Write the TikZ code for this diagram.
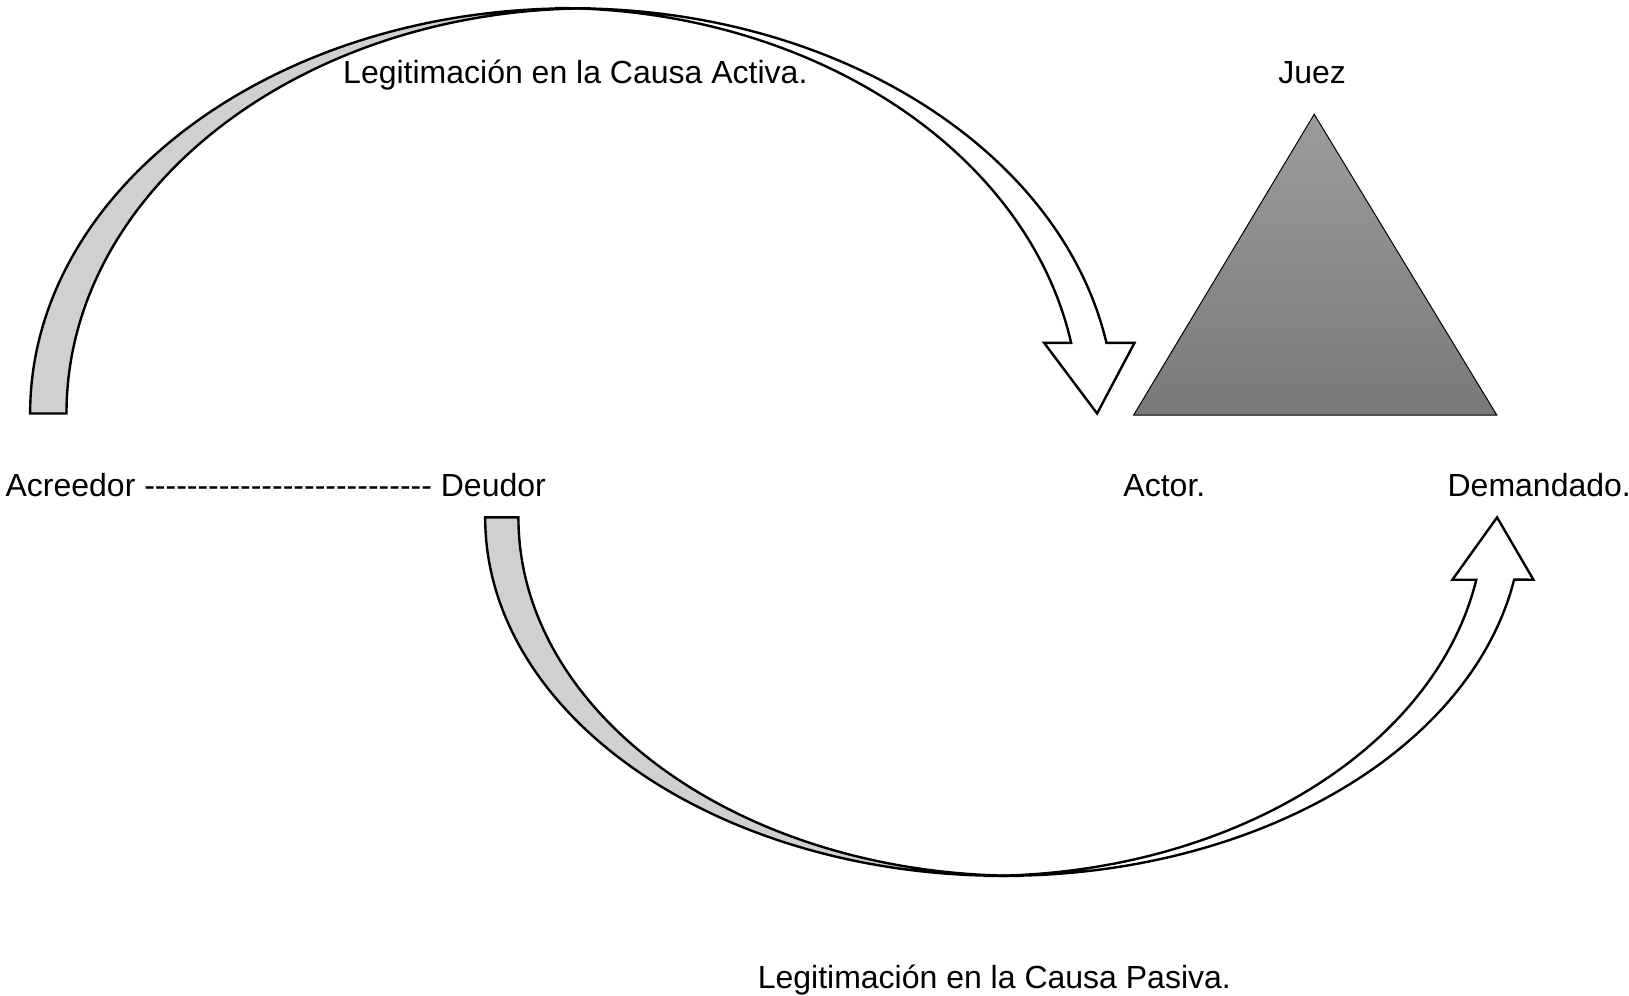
\documentclass[tikz,border=0pt]{standalone}
\usepackage{fontspec}
\setmainfont{Liberation Sans}[Ligatures=TeXOff]
\definecolor{bandgray}{RGB}{208,208,208}
\definecolor{tritop}{RGB}{156,156,156}
\definecolor{tribot}{RGB}{121,121,121}
\tikzset{
  band/.style={draw=black, line width=1.2pt, line join=miter},
  lbl/.style={inner sep=0pt, anchor=base west, font=\fontsize{16}{19}\selectfont},
  tri/.style={draw=black, line width=0.5pt, top color=tritop, bottom color=tribot}
}
\begin{document}
\begin{tikzpicture}[x=0.51945pt, y=-0.51945pt]
\useasboundingbox (0,0) rectangle (1568,958.65);
% top curved arrow: back (gray) part
\draw[band, fill=bandgray] (29,398) arc[start angle=180, end angle=270, x radius=522, y radius=390]
  -- (568.5,8) arc[start angle=270, end angle=180, x radius=504.5, y radius=390] -- cycle;
% top curved arrow: front (white) part
\draw[band, fill=white] (551,8) arc[start angle=270, end angle=349.96, x radius=522, y radius=390]
  -- (1092,330) -- (1056,398) -- (1005,330) -- (1031,330)
  arc[start angle=350, end angle=270, x radius=504.5, y radius=390] -- cycle;
% bottom curved arrow: back (gray) part
\draw[band, fill=bandgray] (467,498) arc[start angle=180, end angle=90, x radius=499, y radius=345]
  -- (982,843) arc[start angle=90, end angle=180, x radius=483, y radius=345] -- cycle;
% bottom curved arrow: front (white) part
\draw[band, fill=white] (966,843) arc[start angle=90, end angle=10, x radius=499, y radius=345]
  -- (1476,558) -- (1441,498) -- (1398,558) -- (1421,558)
  arc[start angle=10, end angle=90, x radius=481, y radius=345] -- cycle;
% triangle
\path[tri] (1265,110) -- (1440.7,399.5) -- (1091.2,399.5) -- cycle;
% labels
\node[lbl] (activa) at (330,80) {Legitimación en la Causa Activa.};
\node[lbl] (juez) at (1230,80) {Juez};
\node[lbl] (ad) at (5,478) {Acreedor --------------------------- Deudor};
\node[lbl] (actor) at (1081,478) {Actor.};
\node[lbl] (demandado) at (1393,478) {Demandado.};
\node[lbl] (pasiva) at (729,951) {Legitimación en la Causa Pasiva.};
\end{tikzpicture}
\end{document}
